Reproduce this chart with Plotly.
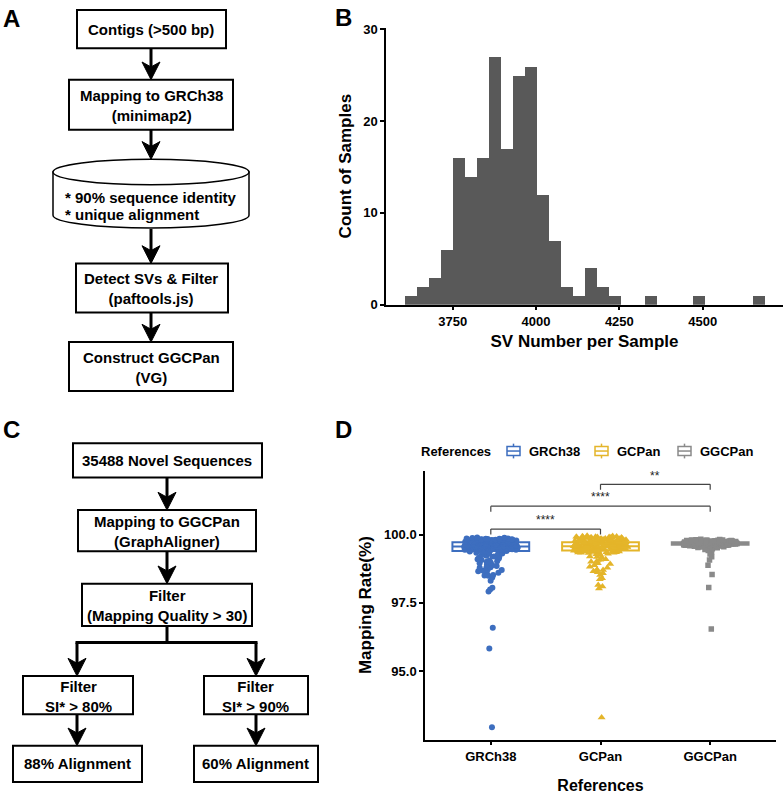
import plotly.graph_objects as go

W, H = 784, 796
FONT = "Liberation Sans, Arial, sans-serif"

# ---- panel B: SV number per sample (histogram, bin width 36) ----
sv_bin_centers = [3624, 3660, 3696, 3732, 3768, 3804, 3840, 3876, 3912, 3948, 3984,
                  4020, 4056, 4092, 4128, 4164, 4200, 4236, 4344, 4488, 4668]
sv_counts = [1, 2, 3, 6, 16, 14, 16, 27, 17, 25, 26, 12, 7, 2, 1, 4, 2, 1, 1, 1, 1]
sv_ticks = [3750, 4000, 4250, 4500]
count_ticks = [0, 10, 20, 30]

# ---- panel D: mapping rate per reference ----
references = ["GRCh38", "GCPan", "GGCPan"]
rate_grch38 = [
    92.94, 95.83, 96.59, 97.91, 97.99, 98.05, 98.31, 98.43, 98.49, 98.50,
    98.52, 98.55, 98.60, 98.66, 98.67, 98.70, 98.72, 98.78, 98.79, 98.80,
    98.85, 98.88, 98.90, 98.95, 98.97, 99.00, 99.02, 99.05, 99.07, 99.10,
    99.12, 99.15, 99.18, 99.20, 99.22, 99.25, 99.28, 99.30, 99.31, 99.33,
    99.34, 99.35, 99.37, 99.38, 99.39, 99.40, 99.41, 99.41, 99.42, 99.42,
    99.43, 99.43, 99.44, 99.44, 99.45, 99.45, 99.46, 99.46, 99.47, 99.47,
    99.47, 99.48, 99.48, 99.49, 99.49, 99.49, 99.50, 99.50, 99.50, 99.51,
    99.51, 99.51, 99.52, 99.52, 99.52, 99.52, 99.53, 99.53, 99.53, 99.54,
    99.54, 99.54, 99.54, 99.55, 99.55, 99.55, 99.55, 99.56, 99.56, 99.56,
    99.57, 99.57, 99.57, 99.58, 99.58, 99.58, 99.59, 99.59, 99.59, 99.60,
    99.60, 99.60, 99.60, 99.61, 99.61, 99.61, 99.62, 99.62, 99.62, 99.63,
    99.63, 99.63, 99.64, 99.64, 99.64, 99.65, 99.65, 99.65, 99.66, 99.66,
    99.66, 99.67, 99.67, 99.67, 99.68, 99.68, 99.68, 99.69, 99.69, 99.69,
    99.70, 99.70, 99.71, 99.71, 99.72, 99.72, 99.72, 99.72, 99.73, 99.73,
    99.73, 99.74, 99.74, 99.74, 99.75, 99.75, 99.75, 99.76, 99.76, 99.76,
    99.77, 99.77, 99.77, 99.78, 99.78, 99.78, 99.79, 99.79, 99.79, 99.80,
    99.80, 99.80, 99.81, 99.81, 99.81, 99.82, 99.82, 99.82, 99.83, 99.83,
    99.83, 99.84, 99.84, 99.85, 99.85, 99.86, 99.86, 99.87, 99.88, 99.89,
]
rate_gcpan = [
    93.30, 98.02, 98.10, 98.15, 98.36, 98.40, 98.52, 98.58, 98.62, 98.66,
    98.70, 98.72, 98.78, 98.82, 98.88, 98.92, 98.95, 99.00, 99.02, 99.08,
    99.10, 99.15, 99.18, 99.20, 99.25, 99.28, 99.30, 99.31, 99.32, 99.33,
    99.33, 99.34, 99.35, 99.35, 99.36, 99.37, 99.37, 99.38, 99.38, 99.39,
    99.39, 99.40, 99.40, 99.41, 99.41, 99.42, 99.42, 99.43, 99.43, 99.44,
    99.44, 99.45, 99.45, 99.46, 99.46, 99.47, 99.47, 99.48, 99.48, 99.49,
    99.49, 99.50, 99.50, 99.51, 99.51, 99.52, 99.52, 99.53, 99.53, 99.53,
    99.54, 99.54, 99.54, 99.55, 99.55, 99.55, 99.56, 99.56, 99.56, 99.56,
    99.56, 99.57, 99.57, 99.57, 99.57, 99.57, 99.57, 99.57, 99.57, 99.57,
    99.58, 99.58, 99.58, 99.59, 99.59, 99.59, 99.60, 99.60, 99.60, 99.61,
    99.61, 99.61, 99.62, 99.62, 99.62, 99.63, 99.63, 99.63, 99.64, 99.64,
    99.64, 99.65, 99.65, 99.65, 99.66, 99.66, 99.66, 99.67, 99.67, 99.67,
    99.68, 99.68, 99.68, 99.69, 99.69, 99.69, 99.70, 99.70, 99.70, 99.71,
    99.71, 99.71, 99.71, 99.72, 99.72, 99.72, 99.73, 99.73, 99.74, 99.74,
    99.75, 99.75, 99.76, 99.76, 99.77, 99.77, 99.78, 99.78, 99.79, 99.79,
    99.80, 99.80, 99.81, 99.81, 99.82, 99.82, 99.83, 99.83, 99.84, 99.84,
    99.85, 99.85, 99.86, 99.86, 99.87, 99.87, 99.88, 99.88, 99.89, 99.89,
    99.90, 99.90, 99.91, 99.91, 99.92, 99.92, 99.93, 99.94, 99.95, 99.96,
]
rate_ggcpan = [
    96.54, 98.06, 98.54, 98.88, 99.07, 99.19, 99.29, 99.38, 99.42, 99.45,
    99.48, 99.50, 99.52, 99.53, 99.54, 99.55, 99.56, 99.57, 99.57, 99.58,
    99.58, 99.59, 99.59, 99.59, 99.60, 99.60, 99.60, 99.60, 99.61, 99.61,
    99.61, 99.61, 99.61, 99.62, 99.62, 99.62, 99.62, 99.62, 99.62, 99.63,
    99.63, 99.63, 99.63, 99.63, 99.63, 99.63, 99.64, 99.64, 99.64, 99.64,
    99.64, 99.64, 99.64, 99.65, 99.65, 99.65, 99.65, 99.65, 99.65, 99.65,
    99.65, 99.66, 99.66, 99.66, 99.66, 99.66, 99.66, 99.66, 99.66, 99.66,
    99.66, 99.66, 99.67, 99.67, 99.67, 99.67, 99.67, 99.67, 99.67, 99.67,
    99.67, 99.67, 99.67, 99.67, 99.67, 99.67, 99.67, 99.67, 99.67, 99.67,
    99.68, 99.68, 99.68, 99.68, 99.68, 99.68, 99.68, 99.68, 99.68, 99.68,
    99.68, 99.68, 99.68, 99.68, 99.69, 99.69, 99.69, 99.69, 99.69, 99.69,
    99.69, 99.69, 99.69, 99.70, 99.70, 99.70, 99.70, 99.70, 99.70, 99.70,
    99.70, 99.70, 99.70, 99.70, 99.70, 99.71, 99.71, 99.71, 99.71, 99.71,
    99.71, 99.71, 99.71, 99.71, 99.72, 99.72, 99.72, 99.72, 99.72, 99.72,
    99.72, 99.72, 99.73, 99.73, 99.73, 99.73, 99.74, 99.74, 99.74, 99.74,
    99.74, 99.75, 99.75, 99.75, 99.75, 99.75, 99.76, 99.76, 99.76, 99.76,
    99.76, 99.76, 99.77, 99.77, 99.77, 99.77, 99.77, 99.78, 99.78, 99.78,
    99.78, 99.78, 99.79, 99.79, 99.79, 99.80, 99.80, 99.81, 99.82, 99.83,
]
rate_ticks = [95.0, 97.5, 100.0]
rate_ticktext = ["95.0", "97.5", "100.0"]
sig_pairs = [("GRCh38", "GCPan"), ("GRCh38", "GGCPan"), ("GCPan", "GGCPan")]
sig_labels = ["****", "****", "**"]
sig_levels = [100.2, 101.04, 101.84]

# ---- flowchart texts ----
flow_a = ["Contigs (>500 bp)", "Mapping to GRCh38<br>(minimap2)",
          "* 90% sequence identity", "* unique alignment",
          "Detect SVs & Filter<br>(paftools.js)", "Construct GGCPan<br>(VG)"]
flow_c = ["35488 Novel Sequences", "Mapping to GGCPan<br>(GraphAligner)",
          "Filter<br>(Mapping Quality > 30)", "Filter<br>SI* > 80%", "Filter<br>SI* > 90%",
          "88% Alignment", "60% Alignment"]

colors = {"GRCh38": "#3D6EBF", "GCPan": "#E4B52A", "GGCPan": "#8A8A8A"}
symbols = {"GRCh38": "circle", "GCPan": "triangle-up", "GGCPan": "square"}
sizes = {"GRCh38": 6, "GCPan": 7, "GGCPan": 5.5}


def px(x):
    return x / W


def py(y):
    return 1 - y / H


shapes = []
annotations = []


def box(x0, y0, x1, y1):
    shapes.append(dict(type="rect", xref="paper", yref="paper",
                       x0=px(x0), x1=px(x1), y0=py(y1), y1=py(y0),
                       line=dict(color="black", width=2), fillcolor="white"))


def seg(x0, y0, x1, y1, color="black", width=3):
    shapes.append(dict(type="line", xref="paper", yref="paper",
                       x0=px(x0), x1=px(x1), y0=py(y0), y1=py(y1),
                       line=dict(color=color, width=width)))


def arrow(x, y0, y1):
    seg(x, y0, x, y1 - 12)
    p = (f"M {px(x - 9)},{py(y1 - 18)} L {px(x)},{py(y1)} "
         f"L {px(x + 9)},{py(y1 - 18)} L {px(x)},{py(y1 - 13)} Z")
    shapes.append(dict(type="path", xref="paper", yref="paper", path=p,
                       fillcolor="black", line=dict(color="black", width=1)))


def label(x, y, text, size=15, anchor="center"):
    annotations.append(dict(xref="paper", yref="paper", x=px(x), y=py(y), text=text,
                            showarrow=False, xanchor=anchor, yanchor="middle",
                            align="center" if anchor == "center" else "left",
                            font=dict(family=FONT, size=size, color="black", weight="bold")))


# flowchart A
cx = 151
box(77, 4, 226, 43); label(cx, 23.5, flow_a[0])
arrow(cx, 43, 75)
box(69, 75, 233, 126); label(cx, 101, flow_a[1])
arrow(cx, 126, 156)
k = 0.5523
x0, x1, rx, ry, yt, yb = 53, 249, 98, 13, 169, 213
cyl = (f"M {px(x0)},{py(yt)} L {px(x0)},{py(yb)} "
       f"C {px(x0)},{py(yb + k * ry)} {px(cx - k * rx)},{py(yb + ry)} {px(cx)},{py(yb + ry)} "
       f"C {px(cx + k * rx)},{py(yb + ry)} {px(x1)},{py(yb + k * ry)} {px(x1)},{py(yb)} "
       f"L {px(x1)},{py(yt)} Z")
shapes.append(dict(type="path", xref="paper", yref="paper", path=cyl,
                   fillcolor="white", line=dict(color="black", width=1.5)))
shapes.append(dict(type="circle", xref="paper", yref="paper",
                   x0=px(x0), x1=px(x1), y0=py(yt + ry), y1=py(yt - ry),
                   fillcolor="white", line=dict(color="black", width=1.5)))
label(63, 195, flow_a[2], anchor="left")
label(63, 212, flow_a[3], anchor="left")
arrow(cx, 227, 262)
box(76, 262, 228, 312); label(cx, 288, flow_a[4])
arrow(cx, 312, 342)
box(69, 342, 233, 392); label(cx, 368, flow_a[5])

# flowchart C
cc, cl, cr = 167, 77, 256
box(73, 445, 262, 480); label(cc, 462.5, flow_c[0])
arrow(cc, 480, 513)
box(78, 513, 256, 555); label(cc, 535, flow_c[1])
arrow(cc, 555, 588)
box(82, 588, 252, 631); label(cc, 610, flow_c[2])
seg(cc, 631, cc, 648)
seg(cl - 1.5, 648, cr + 1.5, 648)
arrow(cl, 648, 682)
arrow(cr, 648, 682)
box(23, 682, 133, 721); label(cl + 1, 703, flow_c[3])
box(204, 682, 308, 721); label(cr, 703, flow_c[4])
arrow(cl, 721, 753)
arrow(cr, 721, 753)
box(13, 753, 142, 790); label(cl, 771.5, flow_c[5])
box(194, 753, 318, 790); label(cr, 771.5, flow_c[6])

# panel letters
for t, x, y in [("A", 1, 13), ("B", 333, 12), ("C", 1, 431), ("D", 333, 431)]:
    label(x, y, t, size=24, anchor="left")

# legend of panel D drawn by hand (boxplot glyphs, tight spacing like ggplot)
legend_y = 453
label(419, legend_y, "References", size=13, anchor="left")
for ref, gx in zip(references, [507, 595, 678]):
    c = colors[ref]
    shapes.append(dict(type="rect", xref="paper", yref="paper",
                       x0=px(gx), x1=px(gx + 13), y0=py(legend_y + 4.5), y1=py(legend_y - 4.5),
                       line=dict(color=c, width=1.5), fillcolor="white"))
    seg(gx, legend_y, gx + 13, legend_y, color=c, width=1.5)
    seg(gx + 6.5, legend_y - 4.5, gx + 6.5, legend_y - 7.5, color=c, width=1.5)
    seg(gx + 6.5, legend_y + 4.5, gx + 6.5, legend_y + 7.5, color=c, width=1.5)
    label(gx + 20, legend_y, ref, size=13, anchor="left")

fig = go.Figure()

fig.add_trace(go.Bar(x=sv_bin_centers, y=sv_counts, width=36,
                     marker=dict(color="#595959", line=dict(width=0)),
                     showlegend=False, xaxis="x", yaxis="y"))

rates = {"GRCh38": rate_grch38, "GCPan": rate_gcpan, "GGCPan": rate_ggcpan}
for ref in references:
    fig.add_trace(go.Box(
        y=rates[ref], x=[ref] * len(rates[ref]), name=ref, showlegend=False,
        boxpoints="all", jitter=0.7, pointpos=0, width=0.7, whiskerwidth=0,
        fillcolor="white", line=dict(color=colors[ref], width=2),
        marker=dict(color=colors[ref], symbol=symbols[ref], size=sizes[ref]),
        xaxis="x2", yaxis="y2"))

# significance brackets
for (a, b), lab, lv in zip(sig_pairs, sig_labels, sig_levels):
    i, j = references.index(a), references.index(b)
    for xa, ya, xb, yb2 in [(i, lv - 0.2, i, lv), (i, lv, j, lv), (j, lv, j, lv - 0.2)]:
        shapes.append(dict(type="line", xref="x2", yref="y2", x0=xa, y0=ya, x1=xb, y1=yb2,
                           line=dict(color="#444444", width=1.2)))
    annotations.append(dict(xref="x2", yref="y2", x=(i + j) / 2, y=lv + 0.32, text=lab,
                            showarrow=False, yanchor="middle",
                            font=dict(family=FONT, size=12, color="#222222")))

axis_common = dict(showline=True, linecolor="black", linewidth=1.5, ticks="outside",
                   ticklen=4, tickwidth=1.5, tickcolor="black", showgrid=False,
                   zeroline=False,
                   tickfont=dict(family=FONT, size=13, color="black", weight="bold"))
title_font = dict(family=FONT, size=17, color="black", weight="bold")

fig.update_layout(
    width=W, height=H,
    margin=dict(l=0, r=0, t=0, b=0),
    paper_bgcolor="white", plot_bgcolor="white",
    bargap=0,
    showlegend=False,
    xaxis=dict(domain=[386 / W, 783 / W], range=[3550, 4741], tickvals=sv_ticks,
               anchor="y", title=dict(text="SV Number per Sample", font=title_font, standoff=7),
               **axis_common),
    yaxis=dict(domain=[1 - 304 / H, 1 - 22 / H], range=[0, 30.2], tickvals=count_ticks,
               anchor="x", title=dict(text="Count of Samples", font=title_font, standoff=7),
               **axis_common),
    xaxis2=dict(domain=[425 / W, 776 / W], range=[-0.6, 2.6], type="category",
                categoryorder="array", categoryarray=references, anchor="y2",
                title=dict(text="References", font=dict(title_font, size=16), standoff=17),
                **axis_common),
    yaxis2=dict(domain=[1 - 746.7 / H, 1 - 473 / H], range=[92.49, 102.34],
                tickvals=rate_ticks, ticktext=rate_ticktext, anchor="x2",
                title=dict(text="Mapping Rate(%)", font=title_font, standoff=8),
                **axis_common),
    shapes=shapes,
    annotations=annotations,
)

# the page's default body margin would push the figure 8px down and right
fig.write_html("out.html", config={"displayModeBar": False},
               post_script="document.body.style.margin = '0px';")
